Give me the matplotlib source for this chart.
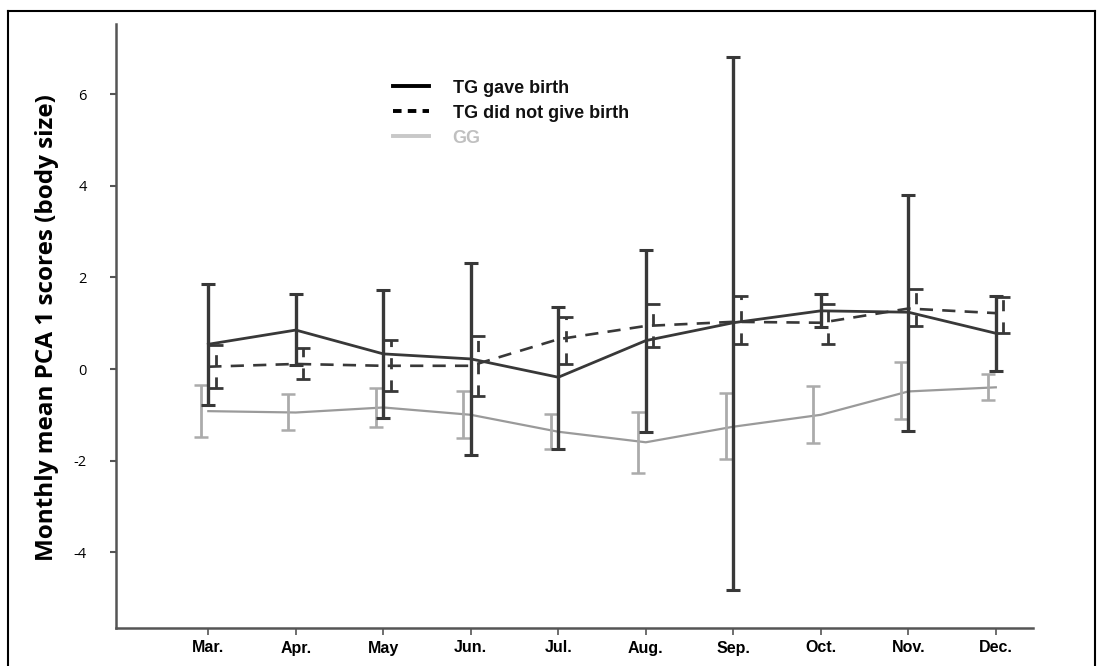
import matplotlib
matplotlib.use("Agg")
import matplotlib.pyplot as plt
from matplotlib.lines import Line2D
import numpy as np

months = ['Mar.', 'Apr.', 'May', 'Jun.', 'Jul.', 'Aug.', 'Sep.', 'Oct.', 'Nov.', 'Dec.']

tg_birth_mean = [0.54, 0.85, 0.33, 0.22, -0.18, 0.62, 1.01, 1.27, 1.24, 0.78]
tg_birth_hi = [1.85, 1.63, 1.72, 2.32, 1.35, 2.60, 6.81, 1.64, 3.80, 1.59]
tg_birth_lo = [-0.79, 0.09, -1.06, -1.88, -1.75, -1.38, -4.83, 0.91, -1.35, -0.04]

tg_nobirth_mean = [0.05, 0.11, 0.07, 0.07, 0.65, 0.94, 1.03, 1.01, 1.32, 1.22]
tg_nobirth_hi = [0.52, 0.45, 0.63, 0.72, 1.14, 1.43, 1.59, 1.42, 1.74, 1.58]
tg_nobirth_lo = [-0.42, -0.22, -0.47, -0.60, 0.11, 0.49, 0.55, 0.55, 0.94, 0.78]

gg_mean = [-0.92, -0.95, -0.84, -1.00, -1.37, -1.60, -1.26, -1.00, -0.49, -0.40]
gg_hi = [-0.35, -0.55, -0.41, -0.47, -0.99, -0.93, -0.53, -0.37, 0.15, -0.12]
gg_lo = [-1.49, -1.33, -1.26, -1.51, -1.75, -2.28, -1.97, -1.62, -1.10, -0.68]

yticks = [-4, -2, 0, 2, 4, 6]
ylabel = 'Monthly mean PCA 1 scores (body size)'
legend_labels = ['TG gave birth', 'TG did not give birth', 'GG']

DARK = '#383838'
GRAY = '#9a9a9a'
GRAYBAR = '#ababab'

fig = plt.figure(figsize=(10.97, 6.66), dpi=100)
ax = fig.add_axes([116/1097, 38/666, (1033-116)/1097, (642-38)/666])

x = np.arange(len(months))

def err(mean, lo, hi):
    m = np.array(mean); return [m - np.array(lo), np.array(hi) - m]

off = 0.085

# GG
ax.plot(x, gg_mean, color=GRAY, lw=1.6, zorder=2)
ax.errorbar(x - off, gg_mean, yerr=err(gg_mean, gg_lo, gg_hi), fmt='none',
            ecolor=GRAYBAR, elinewidth=2.0, capsize=5, capthick=1.8, zorder=2)

# TG did not give birth
ax.plot(x, tg_nobirth_mean, color=DARK, lw=1.9, linestyle=(0, (5, 3.5)), zorder=3)
e2 = ax.errorbar(x + off, tg_nobirth_mean, yerr=err(tg_nobirth_mean, tg_nobirth_lo, tg_nobirth_hi),
                 fmt='none', ecolor=DARK, elinewidth=2.0, capsize=5, capthick=2.0, zorder=3)
for lc in e2.lines[2]:
    lc.set_linestyle((0, (4, 4)))

# TG gave birth
ax.plot(x, tg_birth_mean, color=DARK, lw=2.0, zorder=4)
ax.errorbar(x, tg_birth_mean, yerr=err(tg_birth_mean, tg_birth_lo, tg_birth_hi), fmt='none',
            ecolor=DARK, elinewidth=2.4, capsize=5, capthick=2.2, zorder=4)

ax.set_xlim(-1.055, 9.425)
y0 = 369
ppu = 45.8
ax.set_ylim((y0 - 628) / ppu, (y0 - 24) / ppu)

ax.set_yticks(yticks)
ax.set_yticklabels([str(v) for v in yticks], fontsize=10.5, family=['Open Sans', 'DejaVu Sans'])
ax.set_xticks(x)
ax.set_xticklabels(months, fontsize=11.5, fontweight='bold',
                   family=['Liberation Sans Narrow', 'Liberation Sans', 'DejaVu Sans'])

for s in ['top', 'right']:
    ax.spines[s].set_visible(False)
for s in ['left', 'bottom']:
    ax.spines[s].set_color('#555555')
    ax.spines[s].set_linewidth(1.8)
ax.tick_params(axis='y', length=4, width=1.5, color='#555555', pad=17)
ax.tick_params(axis='x', length=5, width=1.2, color='#555555', pad=4)

fig.text(47/1097, 1 - 328/666, ylabel, rotation=90, ha='center', va='center',
         fontsize=17.5, fontweight='bold', family=['Open Sans', 'DejaVu Sans'])

handles = [Line2D([], [], color='black', lw=2.8),
           Line2D([], [], color='black', lw=2.8, linestyle=(0, (2.2, 1.6))),
           Line2D([], [], color='#c8c8c8', lw=2.8)]
leg = ax.legend(handles, legend_labels, loc='upper left', bbox_to_anchor=(0.302, 0.908),
                frameon=False, borderpad=0, borderaxespad=0, handlelength=2.0,
                handletextpad=1.3, labelspacing=0.45,
                prop={'size': 13, 'weight': 'bold', 'family': ['Liberation Sans', 'DejaVu Sans']})
for t, c in zip(leg.get_texts(), ['#111111', '#111111', '#c0c0c0']):
    t.set_color(c)

# figure frame
fig.add_artist(Line2D([8/1097, 8/1097], [0, 1 - 11/666], transform=fig.transFigure, color='black', lw=1.5))
fig.add_artist(Line2D([8/1097, 1095/1097], [1 - 11/666, 1 - 11/666], transform=fig.transFigure, color='black', lw=1.5))
fig.add_artist(Line2D([1095/1097, 1095/1097], [0, 1 - 11/666], transform=fig.transFigure, color='black', lw=1.5))

fig.savefig('out.png', dpi=100)
